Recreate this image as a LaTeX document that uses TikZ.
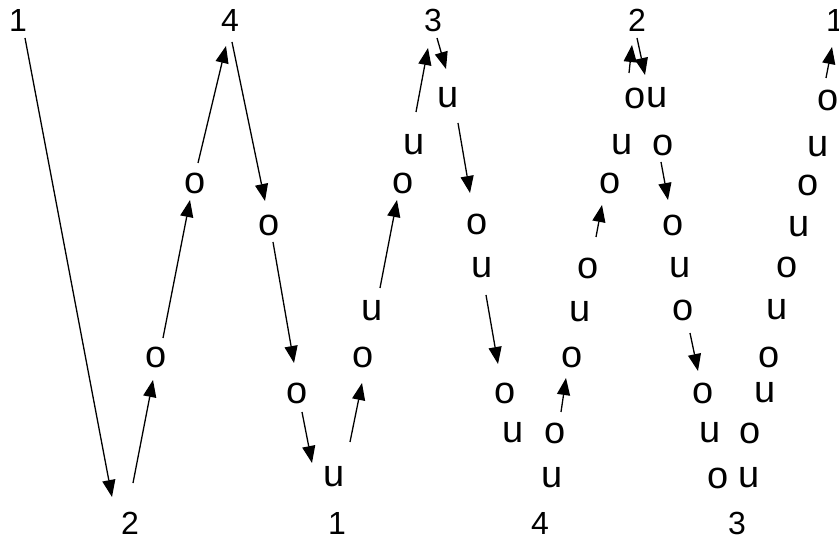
\documentclass[tikz,border=0pt]{standalone}
\usepackage{fontspec}
\setmainfont{Liberation Sans}
\usetikzlibrary{arrows.meta}
\usetikzlibrary{calc}
\tikzset{num/.style={inner sep=0pt,font=\fontsize{32}{32}\selectfont}}
\tikzset{ltr/.style={inner sep=0pt,font=\fontsize{38}{38}\selectfont}}
\tikzset{arr/.style={-{Triangle[length=17pt,width=13pt]},line width=1.3pt}}

\begin{document}
\begin{tikzpicture}[x=1pt,y=-1pt]
  \useasboundingbox (0,0) rectangle (839,540);
  % numbers, top and bottom
  \node[num] (t1) at (18,20) {1};
  \node[num] (t4) at (230,20) {4};
  \node[num] (t3) at (433,20) {3};
  \node[num] (t2) at (637,20) {2};
  \node[num] (t1b) at (835,20) {1};
  \node[num] (b2) at (130,523) {2};
  \node[num] (b1) at (337,523) {1};
  \node[num] (b4) at (540,523) {4};
  \node[num] (b3) at (737,523) {3};
  % letters
  \node[ltr] (o1) at (156,357) {o};
  \node[ltr] (o2) at (195,183) {o};
  \node[ltr] (o3) at (269,225) {o};
  \node[ltr] (o4) at (297,393) {o};
  \node[ltr] (u1) at (334,477) {u};
  \node[ltr] (o5) at (363,357) {o};
  \node[ltr] (u2) at (372,311) {u};
  \node[ltr] (o6) at (403,183) {o};
  \node[ltr] (u3) at (414,145) {u};
  \node[ltr] (u4) at (448,98) {u};
  \node[ltr] (o7) at (477,224) {o};
  \node[ltr] (u5) at (482,268) {u};
  \node[ltr] (o8) at (505,393) {o};
  \node[ltr] (u6) at (513,433) {u};
  \node[ltr] (u7) at (552,478) {u};
  \node[ltr] (o9) at (555,433) {o};
  \node[ltr] (o10) at (572,357) {o};
  \node[ltr] (u8) at (580,312) {u};
  \node[ltr] (o11) at (588,268) {o};
  \node[ltr] (o12) at (610,183) {o};
  \node[ltr] (u9) at (622,145) {u};
  \node[ltr] (o13) at (635,98) {o};
  \node[ltr] (u10) at (657,98) {u};
  \node[ltr] (o14) at (663,145) {o};
  \node[ltr] (o15) at (673,225) {o};
  \node[ltr] (u11) at (680,268) {u};
  \node[ltr] (o16) at (683,310) {o};
  \node[ltr] (o17) at (703,393) {o};
  \node[ltr] (u12) at (710,433) {u};
  \node[ltr] (o18) at (718,478) {o};
  \node[ltr] (u13) at (749,478) {u};
  \node[ltr] (o19) at (750,433) {o};
  \node[ltr] (u14) at (765,393) {u};
  \node[ltr] (o20) at (769,357) {o};
  \node[ltr] (u15) at (777,310) {u};
  \node[ltr] (o21) at (787,267) {o};
  \node[ltr] (u16) at (799,227) {u};
  \node[ltr] (o22) at (808,185) {o};
  \node[ltr] (u17) at (818,147) {u};
  \node[ltr] (o23) at (828,100) {o};
  % arrows
  \draw[arr] ($(t1)+(7,18)$) -- ($(b2)+(-18,-26)$);
  \draw[arr] ($(b2)+(3,-40)$) -- ($(o1)+(-3,23)$);
  \draw[arr] ($(o1)+(7,-19)$) -- ($(o2)+(-5,17)$);
  \draw[arr] ($(o2)+(3,-20)$) -- ($(t4)+(-4,26)$);
  \draw[arr] ($(t4)+(2,22)$) -- ($(o3)+(-4,-24)$);
  \draw[arr] ($(o3)+(4,17)$) -- ($(o4)+(-3,-30)$);
  \draw[arr] ($(o4)+(5,19)$) -- ($(u1)+(-22,-14)$);
  \draw[arr] ($(u1)+(16,-35)$) -- ($(o5)+(-1,26)$);
  \draw[arr] ($(u2)+(8,-23)$) -- ($(o6)+(-6,17)$);
  \draw[arr] ($(u3)+(2,-33)$) -- ($(t3)+(-5,28)$);
  \draw[arr] ($(t3)+(4,18)$) -- ($(u4)+(-2,-29)$);
  \draw[arr] ($(u4)+(10,25)$) -- ($(o7)+(-7,-31)$);
  \draw[arr] ($(u5)+(4,27)$) -- ($(o8)+(-7,-29)$);
  \draw[arr] ($(o9)+(6,-21)$) -- ($(o10)+(-6,21)$);
  \draw[arr] ($(o11)+(8,-31)$) -- ($(o12)+(-8,22)$);
  \draw[arr] ($(o13)+(-6,-25)$) -- ($(t2)+(-5,25)$);
  \draw[arr] ($(t2)+(0,18)$) -- ($(u10)+(-12,-23)$);
  \draw[arr] ($(o14)+(-2,17)$) -- ($(o15)+(-5,-25)$);
  \draw[arr] ($(o16)+(7,23)$) -- ($(o17)+(-5,-22)$);
  \draw[arr] ($(o23)+(-2,-22)$) -- ($(t1b)+(-3,27)$);
\end{tikzpicture}
\end{document}
